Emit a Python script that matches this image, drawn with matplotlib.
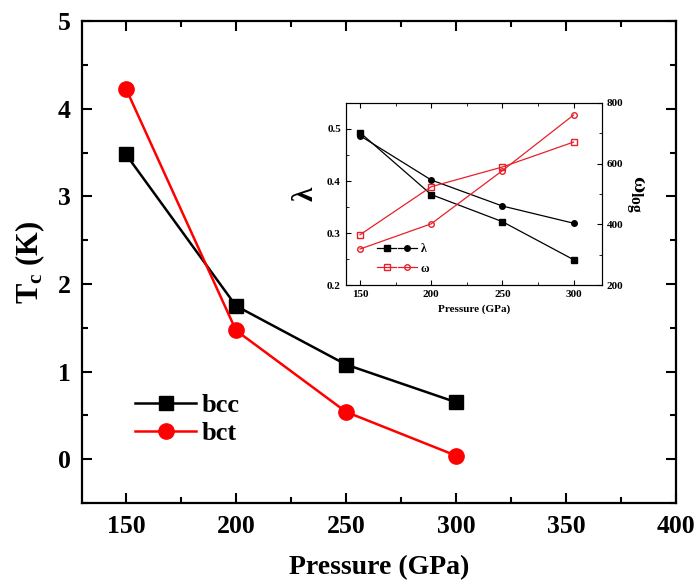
import numpy as np
import matplotlib
matplotlib.use('Agg')
import matplotlib.pyplot as plt
from matplotlib.ticker import MultipleLocator
from matplotlib.legend_handler import HandlerTuple

plt.rcParams['font.family'] = 'Liberation Serif'
plt.rcParams['font.weight'] = 'bold'
plt.rcParams['mathtext.fontset'] = 'custom'
plt.rcParams['mathtext.rm'] = 'Liberation Serif:bold'
plt.rcParams['mathtext.it'] = 'Liberation Serif:bold'

# main panel: Tc vs pressure
pressure = [150, 200, 250, 300]
tc_bcc = [3.48, 1.75, 1.08, 0.65]
tc_bct = [4.23, 1.47, 0.54, 0.04]

# inset: lambda and omega_log
lam_bcc = [0.493, 0.374, 0.322, 0.249]
lam_bct = [0.487, 0.402, 0.352, 0.319]
w_bcc = [366, 524, 589, 671]
w_bct = [319, 402, 577, 760]

fig = plt.figure(figsize=(7, 5.88), dpi=100)
ax = fig.add_axes([0.117, 0.1446, 0.849, 0.8194])
ax.plot(pressure, tc_bcc, '-s', color='k', lw=1.8, ms=10, label='bcc')
ax.plot(pressure, tc_bct, '-o', color='r', lw=1.8, ms=11, label='bct')
ax.set_xlim(130, 400)
ax.set_ylim(-0.5, 5)
ax.xaxis.set_major_locator(MultipleLocator(50))
ax.xaxis.set_minor_locator(MultipleLocator(25))
ax.yaxis.set_major_locator(MultipleLocator(1))
ax.yaxis.set_minor_locator(MultipleLocator(0.5))
ax.tick_params(which='both', direction='in', top=True, right=True, width=1.5,
               labelsize=18.5)
ax.tick_params(which='major', length=7)
ax.tick_params(which='minor', length=4)
ax.tick_params(axis='x', pad=9)
ax.tick_params(axis='y', pad=8)
for s in ax.spines.values():
    s.set_linewidth(1.6)
ax.set_xlabel('Pressure (GPa)', fontsize=20, fontweight='bold', labelpad=12)
ax.set_ylabel(r'T$_\mathregular{c}$ (K)', fontsize=22, fontweight='bold', labelpad=8)
ax.legend(loc='lower left', bbox_to_anchor=(0.05, 0.07), frameon=False,
          fontsize=19, handlelength=2.3, handletextpad=0.2, labelspacing=0.2)

# inset
axi = fig.add_axes([0.494, 0.515, 0.366, 0.31])
l1, = axi.plot(pressure, lam_bcc, '-s', color='k', lw=0.9, ms=4)
l2, = axi.plot(pressure, lam_bct, '-o', color='k', lw=0.9, ms=4)
axi.set_xlim(140, 320)
axi.set_ylim(0.2, 0.55)
axi.xaxis.set_major_locator(MultipleLocator(50))
axi.xaxis.set_minor_locator(MultipleLocator(25))
axi.yaxis.set_major_locator(MultipleLocator(0.1))
axi.yaxis.set_minor_locator(MultipleLocator(0.05))
axi.tick_params(which='both', direction='in', top=True, labelsize=8)
axi.tick_params(which='major', length=3.5)
axi.tick_params(which='minor', length=2)
axi.set_xlabel('Pressure (GPa)', fontsize=8, fontweight='bold')
axi.set_ylabel('λ', fontsize=21, fontweight='bold', labelpad=6)

axr = axi.twinx()
r1, = axr.plot(pressure, w_bcc, '-s', color='#e8202a', lw=0.9, ms=4, mfc='none')
r2, = axr.plot(pressure, w_bct, '-o', color='#e8202a', lw=0.9, ms=4, mfc='none')
axr.set_ylim(200, 800)
axr.yaxis.set_major_locator(MultipleLocator(200))
axr.yaxis.set_minor_locator(MultipleLocator(100))
axr.tick_params(which='both', direction='in', labelsize=8)
axr.tick_params(which='major', length=3.5)
axr.tick_params(which='minor', length=2)
axr.set_ylabel(r'ω$_\mathregular{log}$', fontsize=16, fontweight='bold',
               rotation=270, labelpad=16)

axi.legend([(l1, l2), (r1, r2)], ['λ', 'ω'],
           handler_map={tuple: HandlerTuple(ndivide=None, pad=0.1)},
           loc='lower left', bbox_to_anchor=(0.08, 0.0), frameon=False,
           fontsize=8.5, handlelength=3.4, handletextpad=0.3, labelspacing=0.6)

fig.savefig('out.png', dpi=100)
